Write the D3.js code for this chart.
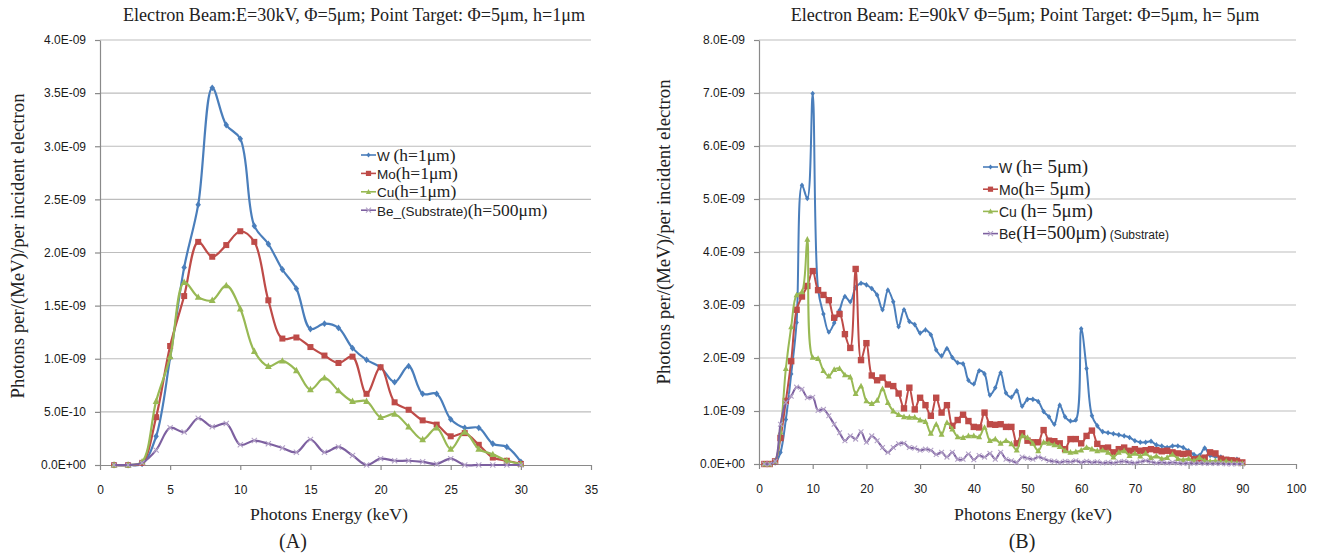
<!DOCTYPE html>
<html lang="en">
<head>
<meta charset="UTF-8">
<title>Photon spectra</title>
<script src="https://d3js.org/d3.v7.min.js"></script>
<style>
  body { margin: 0; background: #fff; }
  svg text { fill: #222; }
  .serif { font-family: "Liberation Serif", "DejaVu Serif", serif; }
  .sans { font-family: "Liberation Sans", Arial, sans-serif; }
  .grid line { stroke: #bdbdbd; stroke-width: 1.2; }
  .axis path, .axis line { stroke: #8a8a8a; stroke-width: 1.2; }
  .axis text { font-family: "Liberation Sans", Arial, sans-serif; font-size: 12px; fill: #1a1a1a; }
</style>
</head>
<body>
<svg width="1321" height="557"></svg>
<script>
// ---- chart A: E = 30 kV, h = 1 um (values in 1E-09 photons/MeV/electron)
var energyA = d3.range(1, 31);
var wA  = [0, 0, 0.01, 0.27, 1.01, 1.86, 2.45, 3.55, 3.2, 3.07, 2.25, 2.08, 1.84, 1.66, 1.28, 1.33, 1.29, 1.10, 0.99, 0.92, 0.78, 0.93, 0.67, 0.67, 0.43, 0.35, 0.35, 0.20, 0.17, 0.03];
var moA = [0, 0, 0.02, 0.45, 1.12, 1.59, 2.10, 1.96, 2.07, 2.20, 2.10, 1.55, 1.19, 1.20, 1.11, 1.03, 0.96, 1.02, 0.67, 0.92, 0.59, 0.52, 0.42, 0.38, 0.27, 0.30, 0.19, 0.07, 0.04, 0.01];
var cuA = [0, 0, 0.03, 0.60, 1.02, 1.72, 1.58, 1.55, 1.69, 1.47, 1.07, 0.93, 0.98, 0.89, 0.71, 0.82, 0.70, 0.60, 0.60, 0.45, 0.48, 0.36, 0.24, 0.35, 0.15, 0.31, 0.15, 0.10, 0.04, 0.01];
var beA = [0, 0, 0.02, 0.14, 0.35, 0.31, 0.44, 0.36, 0.39, 0.19, 0.23, 0.20, 0.16, 0.12, 0.24, 0.12, 0.17, 0.09, 0.0, 0.06, 0.04, 0.04, 0.03, 0.01, 0.06, 0, 0, 0, 0, 0];
var xTicksA = [0, 5, 10, 15, 20, 25, 30, 35];
var yTicksA = [0, 0.5, 1, 1.5, 2, 2.5, 3, 3.5, 4];
var yLabelsA = ["0.0E+00", "5.0E-10", "1.0E-09", "1.5E-09", "2.0E-09", "2.5E-09", "3.0E-09", "3.5E-09", "4.0E-09"];
var legendA = ["(h=1\u03bcm)", "(h=1\u03bcm)", "(h=1\u03bcm)", "(h=500\u03bcm)"];
var namesA = ["W ", "Mo", "Cu", "Be_(Substrate)"];

// ---- chart B: E = 90 kV, h = 5 um
var energyB = d3.range(1, 91);
var wB  = [0, 0, 0.02, 0.22, 0.84, 1.7, 2.67, 5.26, 5.01, 6.99,
           3.3, 2.83, 2.49, 2.66, 2.9, 3.16, 3.06, 3.33, 3.41, 3.38,
           3.31, 3.19, 2.91, 3.28, 3.06, 2.59, 2.91, 2.69, 2.63, 2.47,
           2.53, 2.44, 2.15, 2.04, 2.18, 2.01, 1.91, 1.89, 1.58, 1.51,
           1.76, 1.70, 1.30, 1.44, 1.72, 1.34, 1.26, 1.38, 1.09, 1.22,
           1.22, 1.18, 0.99, 0.89, 0.75, 1.11, 0.89, 0.81, 0.83, 2.55,
           1.80, 0.91, 0.72, 0.61, 0.59, 0.57, 0.55, 0.53, 0.50, 0.44,
           0.41, 0.41, 0.43, 0.36, 0.34, 0.31, 0.34, 0.34, 0.31, 0.25,
           0.18, 0.16, 0.30, 0.16, 0.14, 0.13, 0.09, 0.08, 0.09, 0.03];
var moB = [0, 0, 0.05, 0.49, 1.19, 1.94, 2.91, 3.16, 3.36, 3.64,
           3.28, 3.19, 3.09, 2.76, 2.83, 2.45, 2.19, 3.68, 1.96, 2.28,
           1.67, 1.58, 1.63, 1.50, 1.47, 1.33, 1.05, 1.44, 1.03, 1.25,
           1.11, 0.91, 1.25, 0.97, 1.11, 0.72, 0.83, 0.93, 0.81, 0.70,
           0.69, 0.97, 0.75, 0.74, 0.75, 0.70, 0.70, 0.39, 0.58, 0.44,
           0.41, 0.41, 0.64, 0.44, 0.43, 0.39, 0.28, 0.47, 0.47, 0.39,
           0.53, 0.63, 0.38, 0.30, 0.31, 0.22, 0.28, 0.31, 0.25, 0.28,
           0.25, 0.26, 0.28, 0.26, 0.24, 0.25, 0.22, 0.20, 0.19, 0.20,
           0.09, 0.10, 0.12, 0.22, 0.20, 0.10, 0.08, 0.07, 0.06, 0.03];
var cuB = [0, 0, 0.05, 0.60, 1.80, 2.59, 3.19, 3.25, 4.24, 2.01,
           1.99, 1.76, 1.66, 1.78, 1.80, 1.68, 1.64, 1.33, 1.47, 1.19,
           1.14, 1.20, 1.42, 1.16, 1.00, 0.93, 0.89, 0.88, 0.88, 0.83,
           0.80, 0.58, 0.75, 0.56, 0.78, 0.66, 0.51, 0.50, 0.53, 0.53,
           0.51, 0.69, 0.44, 0.47, 0.39, 0.44, 0.38, 0.26, 0.53, 0.50,
           0.39, 0.25, 0.41, 0.39, 0.36, 0.33, 0.25, 0.22, 0.23, 0.26,
           0.31, 0.28, 0.25, 0.26, 0.22, 0.13, 0.22, 0.25, 0.16, 0.20,
           0.15, 0.20, 0.12, 0.15, 0.10, 0.12, 0.18, 0.10, 0.08, 0.10,
           0.06, 0.12, 0.06, 0.05, 0.06, 0.04, 0.05, 0.03, 0.02, 0.01];
var beB = [0, 0, 0.05, 0.75, 1.16, 1.28, 1.45, 1.41, 1.25, 1.26,
           1.01, 1.03, 0.91, 0.75, 0.59, 0.44, 0.53, 0.47, 0.61, 0.41,
           0.53, 0.44, 0.31, 0.22, 0.31, 0.38, 0.39, 0.31, 0.30, 0.26,
           0.28, 0.26, 0.18, 0.22, 0.13, 0.22, 0.09, 0.09, 0.19, 0.08,
           0.16, 0.13, 0.20, 0.09, 0.22, 0.09, 0.06, 0.03, 0.13, 0.11,
           0.09, 0.13, 0.10, 0.06, 0.05, 0.03, 0.05, 0.04, 0.06, 0.03,
           0.05, 0.03, 0.04, 0.02, 0.03, 0.02, 0.04, 0.05, 0.03, 0.02,
           0.04, 0.06, 0.04, 0.02, 0.03, 0.02, 0.03, 0.02, 0.01, 0.02,
           0.01, 0.02, 0.01, 0.01, 0.01, 0.01, 0, 0, 0, 0];
var xTicksB = [0, 10, 20, 30, 40, 50, 60, 70, 80, 90, 100];
var yTicksB = [0, 1, 2, 3, 4, 5, 6, 7, 8];
var yLabelsB = ["0.0E+00", "1.0E-09", "2.0E-09", "3.0E-09", "4.0E-09", "5.0E-09", "6.0E-09", "7.0E-09", "8.0E-09"];
var legendB = ["(h= 5\u03bcm)", "(h= 5\u03bcm)", "(h= 5\u03bcm)", "(H=500\u03bcm)"];
var namesB = ["W ", "Mo", "Cu ", "Be"];

var colors = ["#4a7ebb", "#be4b48", "#98b954", "#7d60a0"];
var markerFill = ["#4a7ebb", "#be4b48", "#98b954", "#b3a2c7"];

var svg = d3.select("svg");

function marker(g, kind, x, y, s, i) {
  if (kind === 0) {
    g.append("path").attr("d", "M" + x + "," + (y - s) + "L" + (x + s * 0.8) + "," + y + "L" + x + "," + (y + s) + "L" + (x - s * 0.8) + "," + y + "Z")
      .attr("fill", markerFill[i]);
  } else if (kind === 1) {
    g.append("rect").attr("x", x - s).attr("y", y - s).attr("width", 2 * s).attr("height", 2 * s).attr("fill", markerFill[i]);
  } else if (kind === 2) {
    g.append("path").attr("d", "M" + x + "," + (y - s * 1.1) + "L" + (x + s) + "," + (y + s * 0.8) + "L" + (x - s) + "," + (y + s * 0.8) + "Z")
      .attr("fill", markerFill[i]);
  } else {
    g.append("path").attr("d", "M" + (x - s) + "," + (y - s) + "L" + (x + s) + "," + (y + s) + "M" + (x - s) + "," + (y + s) + "L" + (x + s) + "," + (y - s))
      .attr("stroke", markerFill[i]).attr("stroke-width", 1.1).attr("fill", "none");
  }
}

function drawChart(c) {
  var x = d3.scaleLinear().domain(c.xDomain).range([c.left, c.right]);
  var y = d3.scaleLinear().domain(c.yDomain).range([c.bottom, c.top]);

  // gridlines
  svg.append("g").attr("class", "grid")
    .selectAll("line").data(c.yTicks.slice(1)).enter().append("line")
    .attr("x1", c.left).attr("x2", c.right)
    .attr("y1", function(d) { return y(d); }).attr("y2", function(d) { return y(d); });

  svg.append("g").attr("class", "axis")
    .attr("transform", "translate(" + c.left + ",0)")
    .call(d3.axisLeft(y).tickValues(c.yTicks).tickSize(5).tickSizeOuter(0)
      .tickFormat(function(d, i) { return c.yLabels[i]; }))
    .selectAll("text").attr("dx", "-6");

  svg.append("g").attr("class", "axis")
    .attr("transform", "translate(0," + c.bottom + ")")
    .call(d3.axisBottom(x).tickValues(c.xTicks).tickSize(5).tickSizeOuter(0))
    .selectAll("text").attr("dy", "1.75em");

  var line = d3.line()
    .x(function(d) { return x(d[0]); })
    .y(function(d) { return y(d[1]); })
    .curve(d3.curveCatmullRom.alpha(0.5));

  c.series.forEach(function(vals, i) {
    var pts = c.energy.map(function(e, k) { return [e, vals[k]]; });
    svg.append("path").datum(pts).attr("d", line)
      .attr("fill", "none").attr("stroke", colors[i]).attr("stroke-width", c.lw)
      .attr("stroke-linejoin", "round");
    var mg = svg.append("g");
    pts.forEach(function(p) { marker(mg, i, x(p[0]), y(p[1]), c.ms[i], i); });
  });

  // legend
  c.names.forEach(function(n, i) {
    var ly = c.legY + i * c.legDy;
    svg.append("line").attr("x1", c.legX).attr("x2", c.legX + 15).attr("y1", ly).attr("y2", ly)
      .attr("stroke", colors[i]).attr("stroke-width", 1.6);
    marker(svg, i, c.legX + 7.5, ly, i === 3 ? 2.5 : 2.6, i);
    var t = svg.append("text").attr("x", c.legX + 16).attr("y", ly).attr("dy", "0.35em")
      .attr("xml:space", "preserve").style("white-space", "pre");
    t.append("tspan").attr("class", "sans").attr("font-size", c.legSans + "px").text(n);
    t.append("tspan").attr("class", "serif").attr("font-size", c.legSerif + "px").text(c.legend[i]);
    if (c.legExtra && i === 3) {
      t.append("tspan").attr("class", "sans").attr("font-size", "12px").attr("dx", 3).text(c.legExtra);
    }
  });

  svg.append("text").attr("class", "serif").attr("font-size", "18.1px")
    .attr("x", c.titleX).attr("y", 21).attr("text-anchor", "middle").text(c.title);
  svg.append("text").attr("class", "serif").attr("font-size", "18.8px")
    .attr("transform", "translate(" + c.yTitleX + "," + c.yTitleY + ") rotate(-90)")
    .attr("text-anchor", "middle").text("Photons per/(MeV)/per incident electron");
  svg.append("text").attr("class", "serif").attr("font-size", "17.7px")
    .attr("x", c.xTitleX).attr("y", 520).attr("text-anchor", "middle").text("Photons Energy (keV)");
  svg.append("text").attr("class", "serif").attr("font-size", "20px")
    .attr("x", c.tagX).attr("y", 548).attr("text-anchor", "middle").text(c.tag);
}

drawChart({
  energy: energyA, series: [wA, moA, cuA, beA],
  xDomain: [0, 35], yDomain: [0, 4], xTicks: xTicksA, yTicks: yTicksA, yLabels: yLabelsA,
  left: 100, right: 591, top: 40, bottom: 465, lw: 2.2, ms: [3.4, 3.0, 3.4, 2.6],
  names: namesA, legend: legendA, legX: 361, legY: 155, legDy: 18.4, legSans: 13.5, legSerif: 17.5,
  title: "Electron Beam:E=30kV, \u03a6=5\u03bcm; Point Target: \u03a6=5\u03bcm, h=1\u03bcm",
  titleX: 354, yTitleX: 24, yTitleY: 246, xTitleX: 329, tagX: 293, tag: "(A)"
});

drawChart({
  energy: energyB, series: [wB, moB, cuB, beB],
  xDomain: [0, 100], yDomain: [0, 8], xTicks: xTicksB, yTicks: yTicksB, yLabels: yLabelsB,
  left: 759, right: 1296, top: 40, bottom: 464, lw: 2.0, ms: [2.8, 3.2, 3.0, 2.4],
  names: namesB, legend: legendB, legX: 983, legY: 167, legDy: 22.2, legSans: 14, legSerif: 19,
  legExtra: "(Substrate)",
  title: "Electron Beam: E=90kV \u03a6=5\u03bcm; Point Target: \u03a6=5\u03bcm, h= 5\u03bcm",
  titleX: 1025, yTitleX: 670, yTitleY: 232, xTitleX: 1033, tagX: 1022, tag: "(B)"
});
</script>
</body>
</html>
